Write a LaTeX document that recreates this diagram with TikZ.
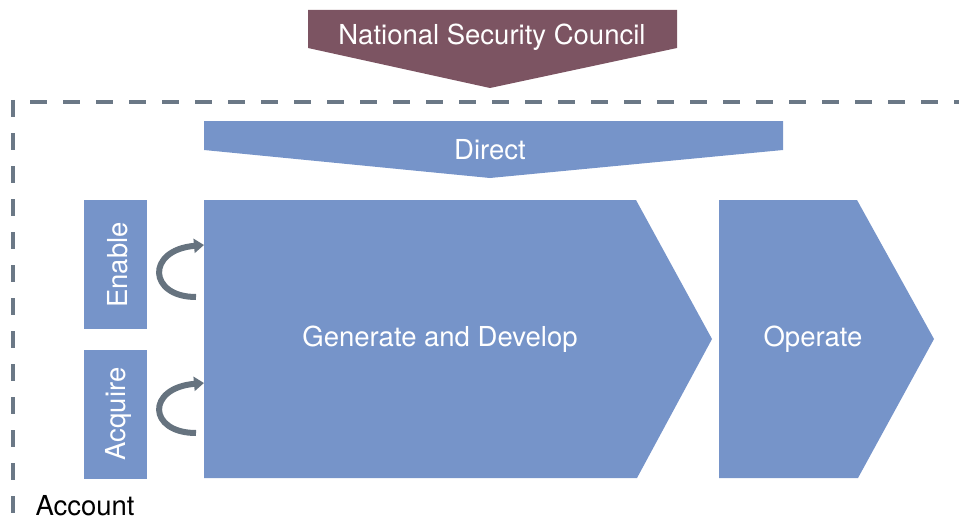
\documentclass[tikz,border=0pt]{standalone}
\usepackage{fontspec}
\setmainfont{TeX Gyre Heros}
\usetikzlibrary{arrows.meta}

\definecolor{nscred}{HTML}{7C5462}
\definecolor{stageblue}{HTML}{7694C9}
\definecolor{dashgray}{HTML}{6B7886}
\definecolor{loopgray}{HTML}{66737F}

\begin{document}
\begin{tikzpicture}[x=1pt,y=-1pt]
    \tikzstyle{label}=[text=white,font=\fontsize{27.5}{33}\selectfont]
    \tikzstyle{stage}=[fill=stageblue]
    \tikzstyle{border}=[draw=dashgray,line width=4pt,dash pattern=on 17pt off 16pt]
    \tikzstyle{loop}=[draw=loopgray,line width=6pt,-{Triangle[length=10pt,width=14pt]}]

    \useasboundingbox (0,0) rectangle (959,527);

    \fill[nscred] (308,10) -- (677,10) -- (677,48) -- (490,88) -- (308,48) -- cycle;
    \node[label] (nsc) at (492,37) {National Security Council};

    \draw[border] (30,102) -- (959,102);
    \draw[border] (13,100) -- (13,527);

    \fill[stage] (204,121) -- (783,121) -- (783,150) -- (490,178) -- (204,150) -- cycle;
    \node[label] (direct) at (490,150) {Direct};

    \fill[stage] (84,200) rectangle (147,329);
    \node[label,rotate=90] (enable) at (118,265) {Enable};
    \fill[stage] (84,350) rectangle (147,479);
    \node[label,rotate=90] (acquire) at (118,414) {Acquire};

    \fill[stage] (204,200) -- (636,200) -- (712,339) -- (637,478) -- (204,478) -- cycle;
    \node[label] (generate) at (440,339) {Generate and Develop};

    \fill[stage] (719,200) -- (857,200) -- (934,339) -- (858,478) -- (719,478) -- cycle;
    \node[label] (operate) at (813,339) {Operate};

    \coordinate (enablein) at (196,297);
    \coordinate (enableout) at (204,245);
    \coordinate (acquirein) at (196,433);
    \coordinate (acquireout) at (204,383);
    \draw[loop] (enablein) .. controls (148,297) and (146,250) .. (enableout);
    \draw[loop] (acquirein) .. controls (148,433) and (146,388) .. (acquireout);

    \node[font=\fontsize{27.5}{33}\selectfont,anchor=west] (account) at (32,506) {Account};
\end{tikzpicture}
\end{document}
